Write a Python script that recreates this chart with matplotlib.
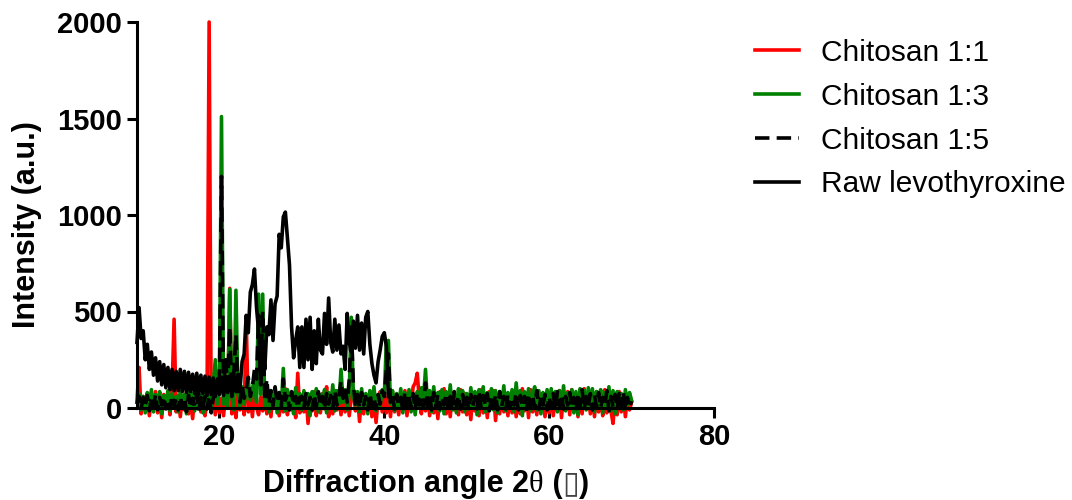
import numpy as np
import matplotlib.pyplot as plt
from matplotlib.offsetbox import TextArea, HPacker, AnchoredOffsetbox

plt.rcParams['font.family'] = ['Liberation Sans', 'DejaVu Sans']

# Scan settings (degrees 2-theta)
scan_start = 10.0
scan_step = 0.25

# Intensities, one row per 5 degrees (10-70)
chitosan_1_1 = [
    40, 210, -30, 60, -10, 75, -40, 50, 0, 85, -25, 45, -50, 70, 5, 55, -35, 90, 460, -20,
    65, -45, 50, -10, 80, -30, 40, -55, 70, 0, 55, -20, 85, -40, 45, 2000, -15, 60, -35, 75,
    -25, 50, -40, 70, 0, 620, -30, 45, -50, 80, -10, 60, -35, 455, -20, 65, -45, 90, 5, -35,
    55, -15, 95, -30, 60, -45, 85, 0, 70, -40, 50, -20, 100, -35, 65, -10, 80, -50, 180, -25,
    45, -20, 70, -80, 60, -15, 85, -40, 50, -25, 75, -5, 110, -45, 65, -30, 90, -10, 55, -35,
    65, -20, 80, -40, 55, 95, -15, 60, -70, 75, -30, 50, -10, 85, -45, 70, -75, 45, 85, -20,
    60, -25, 75, -45, 80, -20, 55, -35, 70, -10, 90, -40, 65, 10, 110, 130, 180, 40, -30, 75,
    -15, 90, -40, 60, -25, 70, -55, 85, 0, 100, -30, 60, -45, 80, -10, 65, -35, 95, -20, 75,
    -35, 55, -60, 80, -15, 70, -40, 95, -25, 65, -50, 85, 0, 90, -65, 60, -30, 75, -20, 55,
    -40, 70, -25, 85, -45, 60, -30, 100, -15, 75, -50, 95, -20, 65, -35, 80, -10, 55, -45, 70,
    -25, 80, -40, 55, -15, 90, -50, 70, -10, 85, -35, 95, -20, 60, -45, 75, -30, 100, -5, 65,
    -30, 70, -45, 85, -20, 60, -40, 95, -25, 75, -15, -80, 55, -35, 85, -20, 65, -45, 70, -10,
    30,
]

chitosan_1_3 = [
    30, 75, -10, 60, -25, 80, 5, 95, -20, 70, 0, 85, -30, 65, 10, 90, -15, 75, 0, 60,
    -20, 85, 5, 70, -30, 95, 0, 75, -15, 90, 10, 65, -25, 100, 5, 80, -10, 120, 250, 20,
    90, 1510, 20, 130, 0, 615, 60, -10, 610, 80, 0, 110, 20, 95, 140, 40, 100, 150, 30, 590,
    70, 590, 10, 120, -20, 90, 15, 100, -25, 80, 5, 205, -15, 95, 20, 70, -30, 105, 0, 75,
    -10, 90, 15, 75, -40, 85, 0, 100, -20, 70, 10, 95, -25, 80, 5, 120, -15, 90, 20, 200,
    30, 95, -10, 80, 470, 60, 15, 85, -20, 100, 5, 75, -30, 90, 0, 110, -15, 70, 10, 95,
    60, 340, 350, 20, 90, -15, 75, 5, 100, -25, 80, 0, 95, -20, 70, -35, 85, 10, 105, 40,
    200, 15, 90, -20, 110, 0, 80, -15, 95, -30, 85, 5, 120, -10, 75, -25, 100, 10, 90, -20,
    75, -5, 105, 10, 85, -35, 95, 0, 110, -20, 80, 15, 100, -10, 90, -25, 85, 5, 115, -15,
    80, 0, 95, -20, 130, 10, 90, -40, 85, 5, 100, -15, 75, 110, -10, 90, -30, 80, 0, 95,
    -5, 100, 10, 85, -20, 90, 0, 115, -15, 80, 5, 95, -25, 85, -35, 100, 10, 90, -10, 105,
    0, 100, -20, 85, 10, 95, -25, 80, 5, 110, -15, 90, -30, 85, 0, 75, -10, 95, 15, 80,
    40,
]

chitosan_1_5 = [
    20, 60, -5, 55, 10, 65, -15, 50, 5, 70, -10, 55, 15, 60, -5, 45, 0, 65, 10, 50,
    -10, 60, 5, 55, -20, 65, 0, 50, 10, 70, -15, 55, 5, 60, -5, 65, -25, 50, 90, 110,
    150, 1200, 80, 250, 120, 420, 60, 180, 380, 90, 30, 120, 50, 100, 160, 60, 110, 200, 150, 480,
    120, 500, 40, 150, 20, 90, 10, 110, 30, 80, 0, 150, 40, 70, -10, 85, 15, 60, 0, 55,
    60, 0, 75, 15, 55, -10, 70, 5, 85, 10, 60, -5, 75, 20, 65, 0, 90, 15, 60, 140,
    50, 100, 30, 150, 420, 120, 20, 70, 0, 80, 15, 60, -10, 75, 10, 55, -5, 70, 20, 90,
    60, 200, 280, 30, 65, -5, 70, 10, 55, -15, 85, 5, 60, 0, 75, -10, 80, 15, 55, 0,
    130, 10, 65, -10, 80, 5, 70, -5, 55, 15, 75, 0, 60, -15, 85, 10, 65, -5, 70, 5,
    55, -10, 70, 10, 60, -5, 90, 0, 65, 15, 75, -15, 55, 5, 70, -10, 85, 10, 60, -5,
    70, 0, 55, 15, 80, -10, 65, 5, 60, -15, 75, 10, 65, 0, 90, -5, 55, 15, 70, -10,
    60, 5, 75, -10, 85, 10, 70, -5, 60, 15, 80, 0, 55, -15, 65, 5, 95, -5, 60, 10,
    75, -10, 65, 5, 80, 0, 55, 10, 90, -15, 60, 5, 70, -5, 75, 10, 85, -10, 55, 0,
    35,
]

# raw drug was only scanned up to 40.5 degrees
raw_levothyroxine = [
    340, 520, 360, 400, 250, 330, 200, 290, 170, 260, 140, 240, 120, 225, 105, 210, 95, 200, 90, 190,
    90, 200, 85, 190, 80, 185, 85, 175, 75, 180, 70, 170, 75, 165, 65, 160, 70, 155, 60, 150,
    70, 160, 65, 150, 80, 165, 70, 170, 85, 175, 100, 240, 280, 480, 390, 600, 640, 720, 520, 400,
    150, 330, 200, 420, 380, 560, 350, 540, 580, 900, 830, 990, 1015, 880, 740, 420, 260, 350, 420, 210,
    420, 210, 460, 250, 470, 200, 400, 230, 460, 300, 280, 490, 330, 570, 340, 290, 460, 300, 430, 280,
    320, 200, 490, 340, 290, 450, 310, 480, 300, 440, 280, 470, 500, 330, 230, 170, 130, 240, 300, 370,
    390, 320, 60,
]

series = [
    ('Chitosan 1:1', chitosan_1_1, '#ff0000', '-'),
    ('Chitosan 1:3', chitosan_1_3, '#008000', '-'),
    ('Chitosan 1:5', chitosan_1_5, 'black', (0, (4, 2))),
    ('Raw levothyroxine', raw_levothyroxine, 'black', '-'),
]

fig = plt.figure(figsize=(10.72, 5.0), dpi=100)
ax = fig.add_axes([137 / 1072, 1 - 408 / 500, 577 / 1072, 386 / 500])

for name, vals, color, ls in series:
    two_theta = scan_start + scan_step * np.arange(len(vals))
    ax.plot(two_theta, vals, color=color, linestyle=ls, lw=2.6,
            label=name, clip_on=False)

ax.set_xlim(10, 80)
ax.set_ylim(0, 2000)
ax.set_xticks([20, 40, 60, 80])
ax.set_yticks([0, 500, 1000, 1500, 2000])

for side in ['top', 'right']:
    ax.spines[side].set_visible(False)
for side in ['left', 'bottom']:
    ax.spines[side].set_linewidth(2.2)

ax.tick_params(direction='out', length=7, width=2.2, labelsize=21, pad=4)
for lab in ax.get_xticklabels() + ax.get_yticklabels():
    lab.set_fontweight('bold')

fig.text(27 / 1072, 0.55, 'Intensity (a.u.)', rotation=90, ha='center',
         va='center', fontsize=22, fontweight='bold')

# x label: bold sans text with a serif theta and a missing-glyph box
bold = dict(fontsize=22, fontweight='bold', family='Liberation Sans')
xlabel_parts = [
    TextArea('Diffraction angle 2', textprops=bold),
    TextArea('\u03b8', textprops=dict(fontsize=22, family='Liberation Serif')),
    TextArea(' (', textprops=bold),
    TextArea('\u25af', textprops=dict(fontsize=22, family='DejaVu Sans', color='#444444')),
    TextArea(')', textprops=bold),
]
xlabel_box = HPacker(children=xlabel_parts, align='baseline', pad=0, sep=0)
fig.add_artist(AnchoredOffsetbox(loc='center', child=xlabel_box, frameon=False,
                                 bbox_to_anchor=(426 / 1072, 1 - 484 / 500),
                                 bbox_transform=fig.transFigure,
                                 borderpad=0, pad=0))

ax.legend(loc='upper left', bbox_to_anchor=(743 / 1072, 1 - 27 / 500),
          bbox_transform=fig.transFigure, frameon=False, fontsize=21.5,
          handlelength=1.47, handletextpad=0.74, labelspacing=0.53,
          borderaxespad=0)

fig.savefig('out.png', dpi=100)
